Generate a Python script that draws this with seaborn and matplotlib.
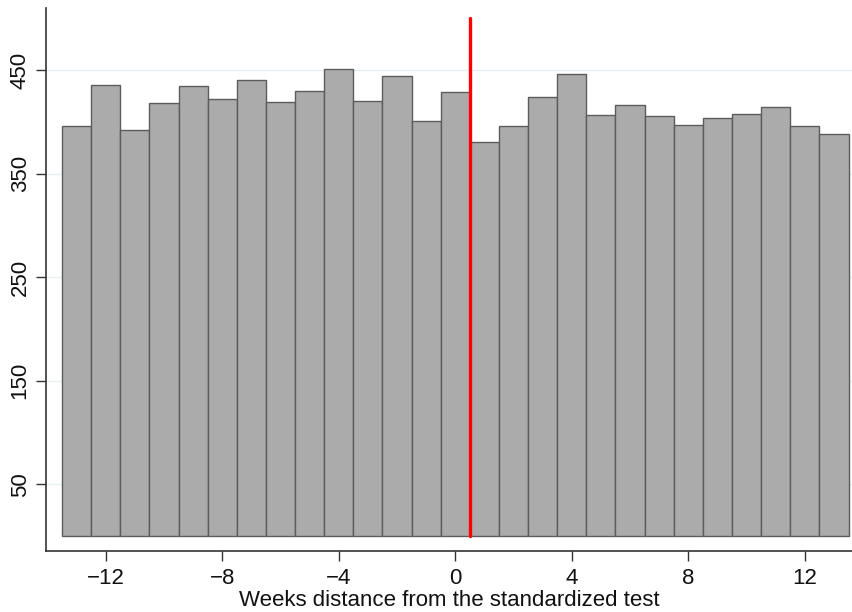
import matplotlib
matplotlib.use("Agg")
import matplotlib.pyplot as plt
import seaborn as sns
import pandas as pd

weeks = list(range(-13, 14))
counts = [396, 436, 392, 418, 435, 422, 440, 419, 430, 451, 420, 444, 401, 429,
          381, 396, 424, 446, 407, 416, 406, 397, 404, 408, 414, 396, 388]
yticks = [50, 150, 250, 350, 450]
xticks = [-12, -8, -4, 0, 4, 8, 12]
cutoff = 0.5
line_top = 500

df = pd.DataFrame({"week": weeks, "count": counts})

sns.set_style("white")
plt.rcParams["font.family"] = ["Liberation Sans", "DejaVu Sans"]

fig = plt.figure(figsize=(8.53, 6.12), dpi=100)
ax = fig.add_axes([46/853, 61/612, 806/853, 543/612])

sns.histplot(data=df, x="week", weights="count", discrete=True, ax=ax,
             color="#ababab", edgecolor="#5c5c5c", linewidth=1.0, alpha=1.0)
ax.plot([cutoff, cutoff], [0, line_top], color="#ff0000", lw=2.4, zorder=5)

ax.set_xlim(-14.05, 13.62)
ax.set_ylim(-14.5, 510)
ax.set_yticks(yticks)
ax.set_xticks(xticks)
ax.set_xticklabels([str(t).replace("-", "\u2212") for t in xticks])
ax.set_yticklabels([str(t) for t in yticks], rotation=90, va="center")
ax.yaxis.grid(True, color="#e6eff1", lw=1)
ax.set_axisbelow(True)
for s in ["top", "right"]:
    ax.spines[s].set_visible(False)
for s in ["left", "bottom"]:
    ax.spines[s].set_color("#333333")
    ax.spines[s].set_linewidth(1.2)
ax.tick_params(axis="both", direction="out", length=7, width=1, color="#333333",
               labelsize=16, labelcolor="#111111", bottom=True, left=True)
ax.tick_params(axis="x", pad=5)
ax.tick_params(axis="y", pad=4)
ax.set_xlabel("Weeks distance from the standardized test", fontsize=16, labelpad=1, color="#111111")
ax.set_ylabel("")

fig.savefig("out.png", dpi=100)
